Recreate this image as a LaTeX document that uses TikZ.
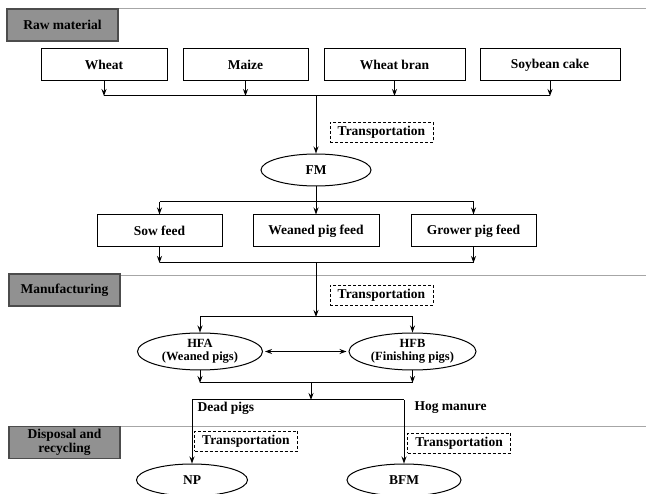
\documentclass[tikz,border=0pt]{standalone}
\usepackage{fontspec}
\setmainfont{Liberation Serif}
\usetikzlibrary{arrows.meta,positioning,shapes.geometric}

\begin{document}
\begin{tikzpicture}[x=1pt,y=-1pt,>={Stealth[length=7pt,width=5pt]},
  every node/.style={font=\fontsize{13.5}{14.5}\selectfont\bfseries},
  sect/.style={draw=black!70,fill=black!43,line width=1.1pt,minimum width=111pt,
    minimum height=32pt,inner sep=1pt,align=center},
  item/.style={draw,line width=1pt,minimum height=32pt},
  oval/.style={ellipse,draw,line width=1pt,inner sep=0pt,align=center},
  trans/.style={draw,line width=.9pt,dash pattern=on 3pt off 2pt,
    minimum width=103pt,minimum height=20pt,inner sep=1pt},
  flow/.style={->,line width=1pt},
  bus/.style={line width=1pt},
  sep/.style={black!35,line width=1pt}]
  \useasboundingbox (0,0) rectangle (646,494);
  \clip (0,0) rectangle (646,494);
  \fill[white] (0,0) rectangle (646,494);
  \draw[sep] (118,9) -- (646,9);
  \draw[sep] (120,276) -- (646,276);
  \draw[sep] (120,427) -- (646,427);
  \node[sect] (raw) at (62.5,25) {Raw material};
  \node[item,minimum width=126pt] (wheat) at (104,65) {Wheat};
  \node[item,minimum width=125pt] (maize) at (245.5,65) {Maize};
  \node[item,minimum width=141pt] (bran) at (394.5,65) {Wheat bran};
  \node[item,minimum width=140pt] (soy) at (550,65) {Soybean cake};
  \coordinate (mixA) at (316,96);
  \foreach \n in {wheat,maize,bran,soy}
    \draw[flow] (\n.south) -- (\n.south |- mixA);
  \draw[bus] (wheat.south |- mixA) -- (soy.south |- mixA);
  \node[oval,minimum width=110pt,minimum height=32pt] (fm) at (316,170) {FM};
  \draw[flow] (mixA) -- (fm.north);
  \node[trans] (t1) at (381.5,132.5) {Transportation};
  \node[item,minimum width=125pt] (sow) at (159.5,231) {Sow feed};
  \node[item,minimum width=126pt] (weaned) at (316,231) {Weaned pig feed};
  \node[item,minimum width=125pt] (grower) at (473.5,231) {Grower pig feed};
  \coordinate (splitA) at (316,202);
  \draw[bus] (fm.south) -- (splitA);
  \draw[bus] (sow.north |- splitA) -- (grower.north |- splitA);
  \foreach \n in {sow,weaned,grower}
    \draw[flow] (\n.north |- splitA) -- (\n.north);
  \coordinate (mixB) at (316,263);
  \draw[flow] (sow.south) -- (sow.south |- mixB);
  \draw[flow] (grower.south) -- (grower.south |- mixB);
  \draw[bus] (sow.south |- mixB) -- (grower.south |- mixB);
  \node[sect] (manu) at (64.5,290) {Manufacturing};
  \node[trans] (t2) at (381.5,295) {Transportation};
  \node[oval,minimum width=125pt,minimum height=37pt,
    font=\fontsize{12.5}{13.5}\selectfont\bfseries] (hfa) at (200,351.5) {HFA\\(Weaned pigs)};
  \node[oval,minimum width=127pt,minimum height=37pt,
    font=\fontsize{12.5}{13.5}\selectfont\bfseries] (hfb) at (412.5,351.5) {HFB\\(Finishing pigs)};
  \draw[<->,line width=1pt,shorten <=2pt,shorten >=2pt] (hfa) -- (hfb);
  \coordinate (splitB) at (316,317);
  \draw[flow] (mixB) -- (splitB);
  \draw[bus] (hfa.north |- splitB) -- (hfb.north |- splitB);
  \draw[flow] (hfa.north |- splitB) -- (hfa.north);
  \draw[flow] (hfb.north |- splitB) -- (hfb.north);
  \coordinate (mixC) at (311,383);
  \draw[flow] (hfa.south) -- (hfa.south |- mixC);
  \draw[flow] (hfb.south) -- (hfb.south |- mixC);
  \draw[bus] (hfa.south |- mixC) -- (hfb.south |- mixC);
  \coordinate (splitC) at (311,400);
  \draw[flow] (mixC) -- (splitC);
  \node[oval,minimum width=111pt,minimum height=32pt] (np) at (192,480) {NP};
  \node[oval,minimum width=114pt,minimum height=32pt] (bfm) at (404,480) {BFM};
  \draw[bus] (np.north |- splitC) -- (bfm.north |- splitC);
  \draw[flow] (np.north |- splitC) -- (np.north);
  \draw[flow] (bfm.north |- splitC) -- (bfm.north);
  \node[anchor=west] (dead) at (194,408) {Dead pigs};
  \node[anchor=west] (hog) at (411,408) {Hog manure};
  \node[sect] (disp) at (64.5,442.5) {Disposal and\\recycling};
  \node[trans] (t3) at (246,441) {Transportation};
  \node[trans] (t4) at (459,443) {Transportation};
\end{tikzpicture}
\end{document}
